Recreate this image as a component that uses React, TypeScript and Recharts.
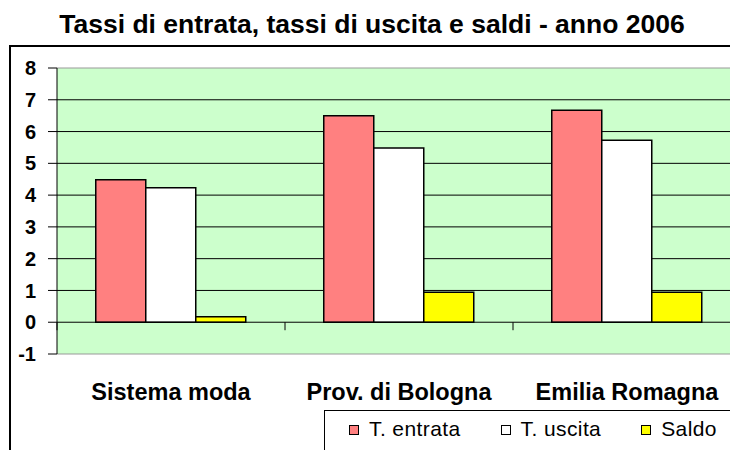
import { Bar, BarChart, CartesianGrid, ReferenceLine, XAxis, YAxis } from "recharts";

const categories = ["Sistema moda", "Prov. di Bologna", "Emilia Romagna"];
const entrata = [4.48, 6.5, 6.67];
const uscita = [4.23, 5.48, 5.73];
const saldo = [0.17, 0.94, 0.94];
const yTicks = [-1, 0, 1, 2, 3, 4, 5, 6, 7, 8];
const gridValues = [1, 2, 3, 4, 5, 6, 7];

const series = [
  { key: "entrata", name: "T. entrata", color: "#FF8080" },
  { key: "uscita", name: "T. uscita", color: "#FFFFFF" },
  { key: "saldo", name: "Saldo", color: "#FFFF00" }
];

const data = categories.map((name, i) => ({
  name,
  entrata: entrata[i],
  uscita: uscita[i],
  saldo: saldo[i]
}));

const FONT = "'Liberation Sans', Arial, sans-serif";
const CHART_W = 760;
const CHART_H = 442;
const MARGIN = { top: 60, right: 27, bottom: 0, left: 9 };
const Y_AXIS_W = 40;
const X_AXIS_H = 96;
const Y_MIN = -1;
const Y_MAX = 8;

const PLOT_W = CHART_W - MARGIN.left - MARGIN.right - Y_AXIS_W;
const PLOT_H = CHART_H - MARGIN.top - MARGIN.bottom - X_AXIS_H;
const ZERO_Y = MARGIN.top + (Y_MAX / (Y_MAX - Y_MIN)) * PLOT_H;
const PLOT_BOTTOM = MARGIN.top + PLOT_H;

function CategoryTick(props: any) {
  const { x, payload } = props;
  const step = PLOT_W / categories.length;
  return (
    <g>
      <line x1={x - step / 2} x2={x - step / 2} y1={ZERO_Y} y2={ZERO_Y + 8} stroke="#000" />
      <text
        x={x}
        y={PLOT_BOTTOM + 46}
        textAnchor="middle"
        fill="#000"
        fontSize={23.5}
        fontWeight="bold"
        fontFamily={FONT}
      >
        {payload.value}
      </text>
    </g>
  );
}

export default function App() {
  return (
    <div
      style={{
        position: "fixed",
        top: 8,
        left: 8,
        width: 722,
        height: 442,
        overflow: "hidden",
        fontFamily: FONT,
        background: "#fff"
      }}
    >
      <div
        style={{
          position: "absolute",
          top: 1,
          left: 0,
          width: 728,
          textAlign: "center",
          fontSize: 26.5,
          lineHeight: "30px",
          fontWeight: "bold",
          color: "#000"
        }}
      >
        Tassi di entrata, tassi di uscita e saldi - anno 2006
      </div>
      <div
        style={{
          position: "absolute",
          left: 1,
          top: 37,
          width: 800,
          height: 500,
          borderLeft: "2px solid #000",
          borderTop: "2px solid #000"
        }}
      />
      <div style={{ position: "absolute", left: 0, top: 0 }}>
        <BarChart
          width={CHART_W}
          height={CHART_H}
          data={data}
          margin={MARGIN}
          barCategoryGap="17%"
          barGap={0}
        >
          <CartesianGrid
            vertical={false}
            horizontalValues={gridValues}
            stroke="#000"
            strokeOpacity={1}
            fill="#CCFFCC"
            fillOpacity={1}
          />
          <XAxis
            dataKey="name"
            height={X_AXIS_H}
            axisLine={false}
            tickLine={false}
            interval={0}
            tick={<CategoryTick />}
          />
          <YAxis
            width={Y_AXIS_W}
            domain={[Y_MIN, Y_MAX]}
            ticks={yTicks}
            interval={0}
            tickSize={9}
            tickMargin={12}
            axisLine={{ stroke: "#000" }}
            tickLine={{ stroke: "#000" }}
            tick={{ fill: "#000", fontSize: 20, fontWeight: "bold", fontFamily: FONT }}
          />
          <ReferenceLine y={Y_MAX} stroke="#999" />
          <ReferenceLine y={Y_MIN} stroke="#999" />
          {series.map((s) => (
            <Bar
              key={s.key}
              dataKey={s.key}
              name={s.name}
              fill={s.color}
              stroke="#000"
              strokeWidth={1.5}
              isAnimationActive={false}
            />
          ))}
          <ReferenceLine y={0} stroke="#000" />
        </BarChart>
      </div>
      <div
        style={{
          position: "absolute",
          left: 316,
          top: 402,
          width: 500,
          height: 60,
          borderLeft: "1px solid #000",
          borderTop: "1px solid #000",
          background: "#fff",
          boxSizing: "border-box",
          paddingLeft: 24,
          paddingTop: 6,
          display: "flex",
          alignItems: "flex-start",
          gap: 40,
          fontSize: 21,
          lineHeight: "24px",
          color: "#000"
        }}
      >
        {series.map((s) => (
          <div
            key={s.key}
            style={{ display: "flex", alignItems: "center", whiteSpace: "nowrap", height: 24 }}
          >
            <span
              style={{
                display: "inline-block",
                width: 10,
                height: 10,
                boxSizing: "border-box",
                border: "1.5px solid #000",
                background: s.color,
                marginRight: 10,
                position: "relative",
                top: 1
              }}
            />
            <span style={{ letterSpacing: 0.4 }}>{s.name}</span>
          </div>
        ))}
      </div>
    </div>
  );
}
